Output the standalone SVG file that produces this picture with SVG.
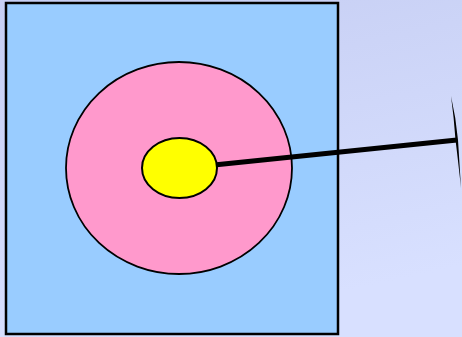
<svg xmlns="http://www.w3.org/2000/svg" width="462" height="337" viewBox="0 0 462 337">
<defs>
<linearGradient id="bg" x1="0" y1="0" x2="0.3" y2="1">
<stop offset="0" stop-color="#c6cef3"/>
<stop offset="1" stop-color="#d8e0ff"/>
</linearGradient>
<style>
.sq{fill:#99ccff;stroke:#000;stroke-width:2.5}
.pink{fill:#ff99cc;stroke:#000;stroke-width:1.8}
.yel{fill:#ffff00;stroke:#000;stroke-width:2}
.ln{stroke:#000;stroke-width:5;fill:none}
</style>
</defs>
<rect width="462" height="337" fill="url(#bg)"/>
<g id="square"><rect class="sq" x="6" y="3" width="332" height="331"/></g>
<g id="outer"><ellipse class="pink" cx="179" cy="168" rx="113" ry="106"/></g>
<g id="connectors">
<line class="ln" x1="214" y1="165" x2="457" y2="140"/>
<path d="M451,96 Q456,118 458,140 L461,188 Q458,160 455.5,140 Q454,118 451,96 Z" fill="#000"/>
</g>
<g id="inner"><ellipse class="yel" cx="179.5" cy="168" rx="37.5" ry="30"/></g>
</svg>
